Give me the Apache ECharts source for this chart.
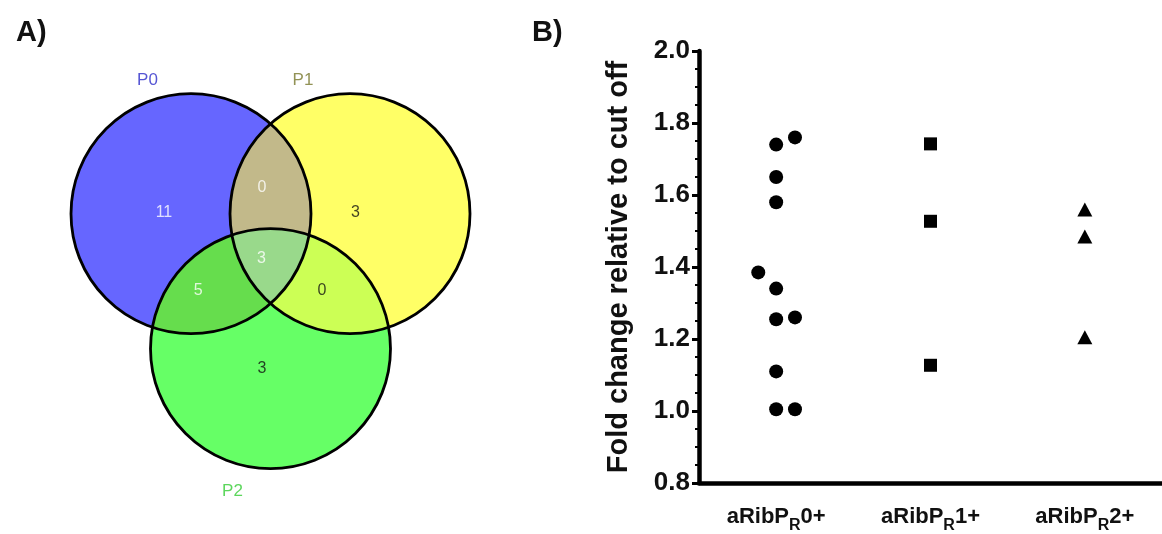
<!DOCTYPE html>
<html>
<head>
<meta charset="utf-8">
<script src="https://cdn.jsdelivr.net/npm/echarts@6/dist/echarts.min.js"></script>
<style>html,body{margin:0;padding:0;background:#fff;}#c{width:1162px;height:534px;}</style>
</head>
<body>
<div id="c"></div>
<script>
// ---------- Data ----------
const vennSetNames = ['P0', 'P1', 'P2'];
const vennRegionNames = ['P0 only', 'P1 only', 'P2 only', 'P0∩P1', 'P0∩P2', 'P1∩P2', 'P0∩P1∩P2'];
const vennCounts = [11, 3, 3, 0, 5, 0, 3];

const categories = ['aRibPR0+', 'aRibPR1+', 'aRibPR2+'];
const yTicks = [0.8, 1.0, 1.2, 1.4, 1.6, 1.8, 2.0];
const group0Values = [1.76, 1.74, 1.65, 1.58, 1.385, 1.34, 1.255, 1.26, 1.11, 1.005, 1.005];
const group0Jitter = [0.122, 0, 0, 0, -0.116, 0, 0, 0.122, 0, 0, 0.122];
const group1Values = [1.742, 1.527, 1.127];
const group2Values = [1.56, 1.485, 1.205];

// ---------- Layout (not data) ----------
const circleCx = [-0.6625, 0.6625, 0];
const circleCy = [0.5625, 0.5625, -0.5625];
const circleR = 1;
const soloColors = ['#6666FF', '#FFFF66', '#66FF66'];
const pairColors = { '01': '#C2B98A', '02': '#66DD4D', '12': '#CCFF55' };
const tripleColor = '#99D98B';
const regionLabelPos = [[-0.888, 0.568], [0.708, 0.568], [-0.071, -0.727], [-0.071, 0.777], [-0.602, -0.082], [0.428, -0.082], [-0.075, 0.19]];
const regionLabelColor = ['#ffffff', '#111111', '#111111', '#ffffff', '#ffffff', '#111111', '#ffffff'];
const setLabelPos = [[-1.025, 1.677], [0.271, 1.677], [-0.317, -1.755]];
const setLabelColor = ['#2B2BC8', '#77772A', '#33CC33'];

const FONT = '"Liberation Sans", Arial, sans-serif';

function circleIntersections(c1, c2) {
  const dx = c2[0] - c1[0], dy = c2[1] - c1[1];
  const d = Math.sqrt(dx * dx + dy * dy);
  const r1 = c1[2], r2 = c2[2];
  const a = (r1 * r1 - r2 * r2 + d * d) / (2 * d);
  const h = Math.sqrt(Math.max(0, r1 * r1 - a * a));
  const mx = c1[0] + a * dx / d, my = c1[1] + a * dy / d;
  return [[mx + h * dy / d, my - h * dx / d], [mx - h * dy / d, my + h * dx / d]];
}
function arcTo(c, p, q) {
  const cross = (q[0] - p[0]) * (c[1] - p[1]) - (q[1] - p[1]) * (c[0] - p[0]);
  const sweep = cross > 0 ? 1 : 0;
  return 'A' + c[2] + ' ' + c[2] + ' 0 0 ' + sweep + ' ' + q[0] + ' ' + q[1];
}
function inside(pt, c) {
  const dx = pt[0] - c[0], dy = pt[1] - c[1];
  return Math.sqrt(dx * dx + dy * dy) < c[2] - 0.5;
}

function renderVenn(params, api) {
  const C = [0, 1, 2].map(i => {
    const p = api.coord([circleCx[i], circleCy[i]]);
    const r = api.size([circleR, circleR])[0];
    return [p[0], p[1], r];
  });
  const children = [];
  for (let i = 0; i < 3; i++) {
    children.push({ type: 'circle', shape: { cx: C[i][0], cy: C[i][1], r: C[i][2] }, style: { fill: soloColors[i], stroke: null } });
  }
  const pairs = [[0, 1], [0, 2], [1, 2]];
  const X = {};
  pairs.forEach(([i, j]) => {
    const pts = circleIntersections(C[i], C[j]);
    const k = 3 - i - j;
    X[i + '' + j] = inside(pts[0], C[k]) ? { inn: pts[0], out: pts[1] } : { inn: pts[1], out: pts[0] };
    const p = pts[0], q = pts[1];
    const d = 'M' + p[0] + ' ' + p[1] + ' ' + arcTo(C[i], p, q) + ' ' + arcTo(C[j], q, p) + 'Z';
    children.push({ type: 'path', shape: { pathData: d }, style: { fill: pairColors[i + '' + j], stroke: null } });
  });
  const a = X['01'].inn, b = X['12'].inn, c = X['02'].inn;
  const dT = 'M' + a[0] + ' ' + a[1] + ' ' + arcTo(C[1], a, b) + ' ' + arcTo(C[2], b, c) + ' ' + arcTo(C[0], c, a) + 'Z';
  children.push({ type: 'path', shape: { pathData: dT }, style: { fill: tripleColor, stroke: null } });
  for (let i = 0; i < 3; i++) {
    children.push({ type: 'circle', shape: { cx: C[i][0], cy: C[i][1], r: C[i][2] }, style: { fill: null, stroke: '#000', lineWidth: 2.8 } });
  }
  return { type: 'group', children: children };
}

const chart = echarts.init(document.getElementById('c'), null, { renderer: 'canvas' });

function catLabel(v) {
  const m = v.match(/^(aRibP)(R)(.*)$/);
  return '{m|' + m[1] + '}{s|' + m[2] + '}{m|' + m[3] + '}';
}

const option = {
  backgroundColor: '#ffffff',
  animation: false,
  title: [
    { text: 'A)', left: 11, top: 13, textStyle: { fontFamily: FONT, fontWeight: 'bold', fontSize: 29, color: '#111' } },
    { text: 'B)', left: 527, top: 13, textStyle: { fontFamily: FONT, fontWeight: 'bold', fontSize: 29, color: '#111' } }
  ],
  grid: [
    { left: 42.5, top: 53.2, width: 456, height: 456 },
    { left: 699, top: 51, width: 466.5, height: 432 }
  ],
  xAxis: [
    { gridIndex: 0, type: 'value', min: -1.9, max: 1.9, show: false },
    {
      gridIndex: 1, type: 'category', data: categories, boundaryGap: true,
      axisLine: { lineStyle: { color: '#000', width: 4.5 } },
      axisTick: { alignWithLabel: true, length: 9, lineStyle: { color: '#000', width: 3 } },
      axisLabel: {
        margin: 17, formatter: catLabel,
        rich: {
          m: { fontFamily: FONT, fontWeight: 'bold', fontSize: 22, color: '#111', lineHeight: 34, verticalAlign: 'middle' },
          s: { fontFamily: FONT, fontWeight: 'bold', fontSize: 16, color: '#111', lineHeight: 14, verticalAlign: 'bottom' }
        }
      },
      splitLine: { show: false }
    },
    { gridIndex: 1, type: 'value', min: 0.5, max: 3.5, show: false }
  ],
  yAxis: [
    { gridIndex: 0, type: 'value', min: -1.9, max: 1.9, show: false },
    {
      gridIndex: 1, type: 'value', min: 0.8, max: 2.0, interval: 0.2,
      name: 'Fold change relative to cut off', nameLocation: 'middle', nameGap: 66,
      nameTextStyle: { fontFamily: FONT, fontWeight: 'bold', fontSize: 29, color: '#111' },
      axisLine: { show: true, lineStyle: { color: '#000', width: 4.5 } },
      axisTick: { show: true, length: 7, lineStyle: { color: '#000', width: 3 } },
      minorTick: { show: true, splitNumber: 4, length: 4, lineStyle: { color: '#000', width: 2 } },
      axisLabel: { margin: 9, fontFamily: FONT, fontWeight: 'bold', fontSize: 26, color: '#111', formatter: v => v.toFixed(1) },
      splitLine: { show: false }
    }
  ],
  series: [
    {
      type: 'custom', xAxisIndex: 0, yAxisIndex: 0, data: [[0, 0]], renderItem: renderVenn, silent: true, z: 1
    },
    {
      type: 'scatter', xAxisIndex: 0, yAxisIndex: 0, symbolSize: 0, z: 5, silent: true,
      data: vennCounts.map((v, i) => ({ value: [regionLabelPos[i][0], regionLabelPos[i][1], v], name: vennRegionNames[i], label: { color: regionLabelColor[i] } })),
      label: { show: true, position: 'inside', formatter: p => String(p.value[2]), fontFamily: FONT, fontSize: 16 }
    },
    {
      type: 'scatter', xAxisIndex: 0, yAxisIndex: 0, symbolSize: 0, z: 5, silent: true,
      data: vennSetNames.map((n, i) => ({ value: [setLabelPos[i][0], setLabelPos[i][1]], name: n, label: { color: setLabelColor[i] } })),
      label: { show: true, position: 'inside', formatter: p => p.name, fontFamily: FONT, fontSize: 17 }
    },
    {
      type: 'scatter', xAxisIndex: 2, yAxisIndex: 1, symbol: 'circle', symbolSize: 14,
      itemStyle: { color: '#000', opacity: 1 },
      data: group0Values.map((v, i) => [1 + group0Jitter[i], v])
    },
    {
      type: 'scatter', xAxisIndex: 2, yAxisIndex: 1, symbol: 'rect', symbolSize: 13,
      itemStyle: { color: '#000', opacity: 1 },
      data: group1Values.map(v => [2, v])
    },
    {
      type: 'scatter', xAxisIndex: 2, yAxisIndex: 1, symbol: 'triangle', symbolSize: [15, 14],
      itemStyle: { color: '#000', opacity: 1 },
      data: group2Values.map(v => [3, v])
    }
  ]
};
chart.setOption(option);
</script>
</body>
</html>
